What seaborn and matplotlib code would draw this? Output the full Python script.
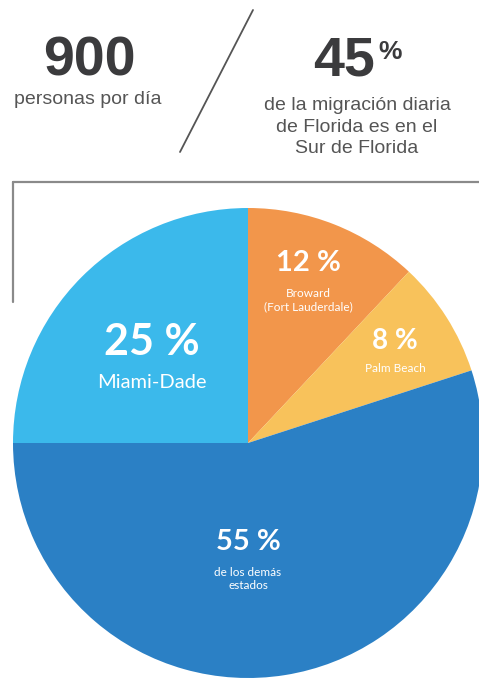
import matplotlib
matplotlib.use("Agg")
import matplotlib.pyplot as plt
import seaborn as sns
from matplotlib.lines import Line2D

# Datos
segments = ["Broward", "Palm Beach", "Otros estados", "Miami-Dade"]
shares = [12, 8, 55, 25]
segment_notes = ["Broward\n(Fort Lauderdale)", "Palm Beach", "de los demás\nestados", "Miami-Dade"]
headline_left = "900"
sub_left = "personas por día"
headline_right = "45"
sub_right = "de la migración diaria\nde Florida es en el\nSur de Florida"

W, H = 479, 679


def fx(x):
    return x / W


def fy(y):
    return 1 - y / H


def main():
    sns.set_theme(style="white")
    plt.rcParams["font.family"] = ["Liberation Sans", "DejaVu Sans"]

    colors = sns.color_palette(["#F2964B", "#F8C25B", "#2B80C5", "#3BB9EB"])

    fig = plt.figure(figsize=(W / 100, H / 100), dpi=100)
    fig.patch.set_facecolor("white")

    # pie: centro (248, 443), radio 235 px
    cx, cy, r = 248, 443, 235
    ax = fig.add_axes([fx(cx - r), fy(cy + r), 2 * r / W, 2 * r / H])
    ax.pie(shares, colors=colors, startangle=90, counterclock=False,
           wedgeprops=dict(linewidth=0), radius=1)
    ax.set_xlim(-1, 1)
    ax.set_ylim(-1, 1)
    ax.set_aspect("equal")
    ax.axis("off")

    # marco gris
    fig.add_artist(Line2D([fx(13), fx(479)], [fy(182), fy(182)], color="#8a8a8a", lw=1.6))
    fig.add_artist(Line2D([fx(13), fx(13)], [fy(182), fy(302)], color="#8a8a8a", lw=1.6))
    # barra diagonal
    fig.add_artist(Line2D([fx(253), fx(180)], [fy(10), fy(152)], color="#555555", lw=1.3))

    # cabecera
    fig.text(fx(89), fy(62), headline_left, ha="center", va="center",
             fontsize=40, fontweight="bold", color="#3b3b3d")
    fig.text(fx(88), fy(99), sub_left, ha="center", va="center",
             fontsize=14, color="#555555")
    fig.text(fx(375), fy(62), headline_right, ha="right", va="center",
             fontsize=40, fontweight="bold", color="#3b3b3d")
    fig.text(fx(378), fy(52), "%", ha="left", va="center",
             fontsize=19, fontweight="bold", color="#3b3b3d")
    fig.text(fx(357), fy(127), sub_right, ha="center", va="center",
             fontsize=14, color="#555555", linespacing=1.35)

    # etiquetas de la torta (posiciones en px)
    pct_pos = [(308, 263), (395, 341), (248, 542), (152, 342)]
    note_pos = [(308, 300), (395, 368), (248, 579), (152, 383)]
    pct_size = [21, 20, 21, 31]
    note_size = [8.5, 8.5, 8.5, 14.5]
    for share, note, pp, npos, ps, ns in zip(shares, segment_notes, pct_pos, note_pos, pct_size, note_size):
        fig.text(fx(pp[0]), fy(pp[1]), f"{share} %", ha="center", va="center",
                 fontsize=ps, fontweight="bold", color="white", family=["Lato", "DejaVu Sans"])
        fig.text(fx(npos[0]), fy(npos[1]), note, ha="center", va="center",
                 fontsize=ns, color="white", linespacing=1.2, family=["Lato", "DejaVu Sans"])

    fig.savefig("out.png", dpi=100, facecolor="white")


if __name__ == "__main__":
    main()
